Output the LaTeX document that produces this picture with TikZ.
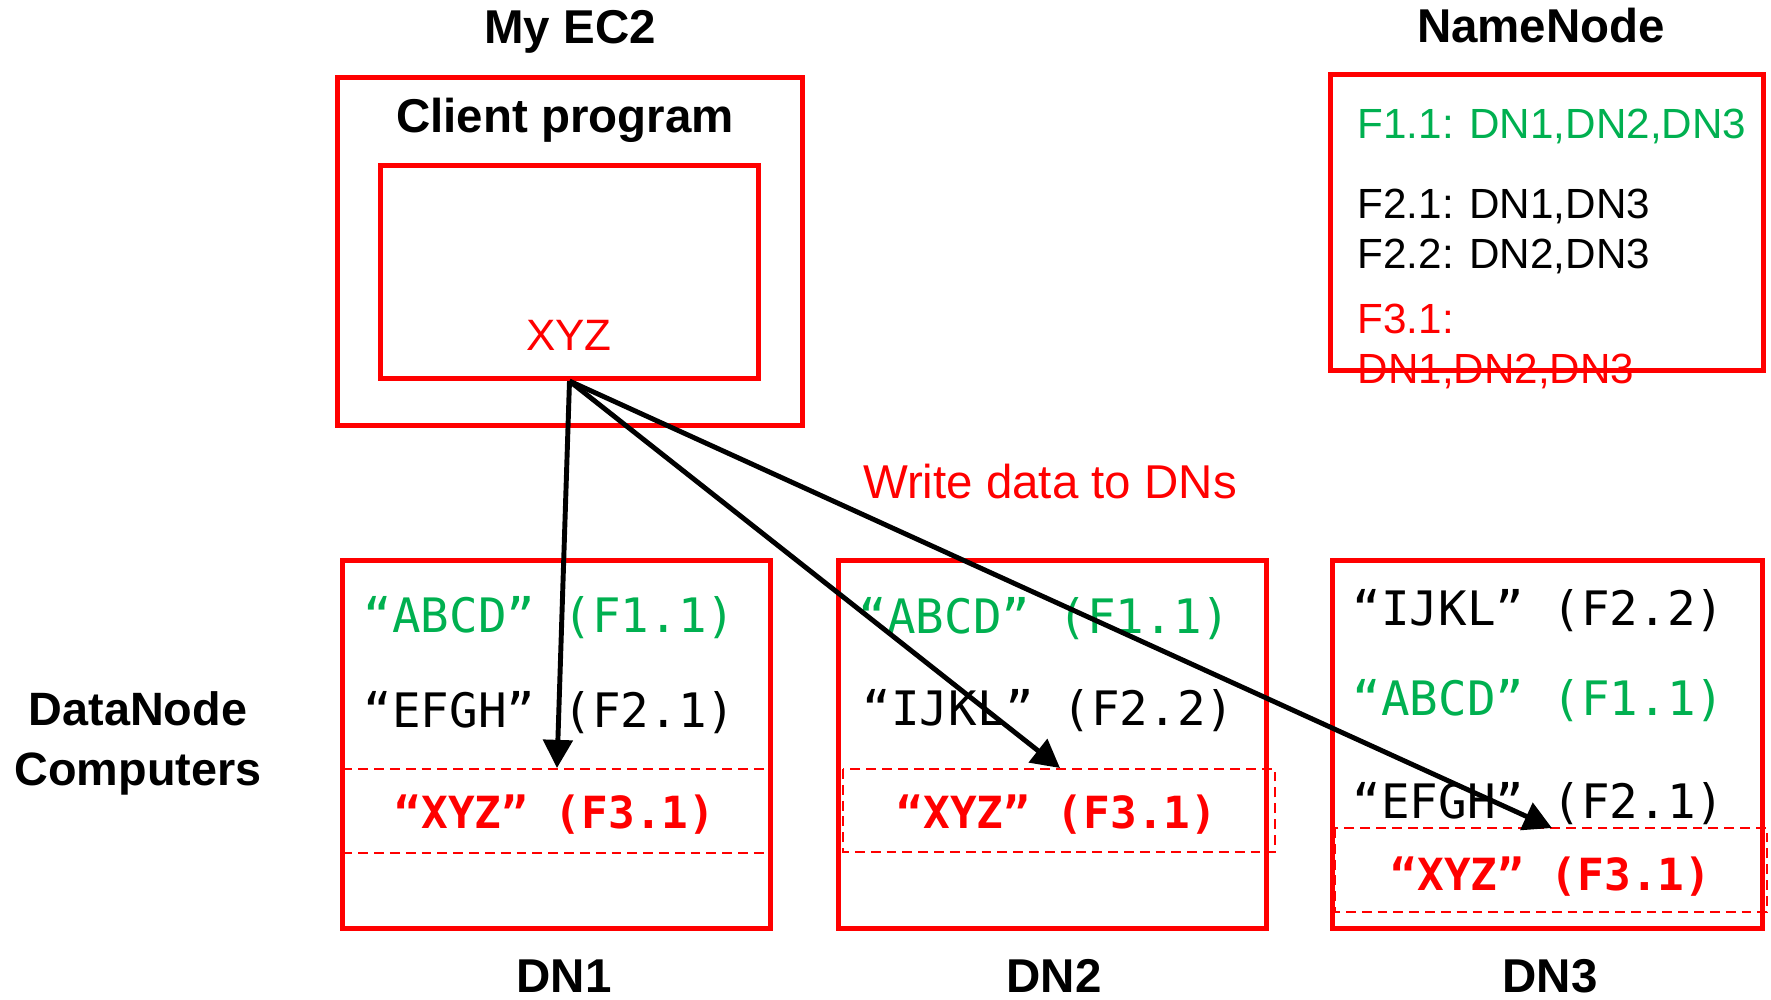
\documentclass[tikz,border=0pt]{standalone}
\usepackage{fontspec}
\setmainfont{Liberation Sans}
\newfontfamily\monofam{DejaVu Sans Mono}
\usetikzlibrary{arrows.meta}
\definecolor{okgreen}{RGB}{0,176,80}
\definecolor{hred}{RGB}{255,0,0}
\begin{document}
\begin{tikzpicture}[x=0.01cm,y=-0.01cm,
  box/.style={draw=hred, line width=1.42pt, inner sep=0pt, minimum width=#1},
  title/.style={font=\bfseries\fontsize{13.5}{16}\selectfont, anchor=base, inner sep=0pt},
  nntext/.style={font=\fontsize{12}{14}\selectfont, anchor=base west, inner sep=0pt},
  blocktext/.style={font=\monofam\fontsize{13.5}{16}\selectfont, anchor=base west, inner sep=0pt},
  newblock/.style={font=\monofam\bfseries\fontsize{12.6}{15}\selectfont, text=hred, anchor=base, inner sep=0pt},
  slot/.style={draw=hred, line width=0.6pt, dash pattern=on 2.8pt off 1.7pt},
  writearrow/.style={draw=black, line width=1.4pt, -{Triangle[length=8pt,width=8.3pt]}}
]
\useasboundingbox (0,0) rectangle (1771,999);

% ---------- client machine ----------
\node[box=4.65cm, minimum height=3.48cm] (ec2) at (570,251.5) {};
\node[box=3.78cm, minimum height=2.13cm] (client) at (569.5,272) {};
\node[title] (ec2lbl) at (570,43) {My EC2};
\node[title] (clientlbl) at (565,132) {Client program};
\node[font=\fontsize{12.5}{15}\selectfont, text=hred, anchor=base, inner sep=0pt] (xyz) at (569,350) {XYZ};

% ---------- name node ----------
\node[title] (nnlbl) at (1541,42) {NameNode};
\node[nntext, text=okgreen] (m11) at (1357,138) {F1.1: DN1,DN2,DN3};
\node[nntext] (m21) at (1357,218) {F2.1: DN1,DN3};
\node[nntext] (m22) at (1357,268) {F2.2: DN2,DN3};
\node[nntext, text=hred] (m31a) at (1357,333) {F3.1:};
\node[nntext, text=hred] (m31b) at (1357,383) {DN1,DN2,DN3};
\node[box=4.33cm, minimum height=2.96cm] (nn) at (1547,222.5) {};

% ---------- data nodes ----------
\node[box=4.28cm, minimum height=3.68cm] (dn1) at (556.5,744.5) {};
\node[box=4.28cm, minimum height=3.68cm] (dn2) at (1052.5,744.5) {};
\node[box=4.30cm, minimum height=3.68cm] (dn3) at (1547.5,744.5) {};

\node[title] (dn1lbl) at (564,992) {DN1};
\node[title] (dn2lbl) at (1054,992) {DN2};
\node[title] (dn3lbl) at (1550,992) {DN3};

\node[font=\bfseries\fontsize{13.3}{17}\selectfont, align=center, inner sep=0pt, anchor=base] (dngrp) at (138,785)
  {DataNode\\Computers};

% block slots for the new block
\draw[slot] (342.5,769) -- (770.5,769);
\draw[slot] (342.5,853) -- (770.5,853);
\draw[slot] (843,769) rectangle (1275,852);
\draw[slot] (1335,828) rectangle (1767,912);

% DN1 contents
\node[blocktext, text=okgreen] (d1a) at (363,632) {“ABCD” (F1.1)};
\node[blocktext] (d1b) at (363,727) {“EFGH” (F2.1)};
\node[newblock] (d1c) at (555,828) {“XYZ” (F3.1)};

% DN2 contents
\node[blocktext, text=okgreen] (d2a) at (858,633) {“ABCD” (F1.1)};
\node[blocktext] (d2b) at (862,725) {“IJKL” (F2.2)};
\node[newblock] (d2c) at (1057,828) {“XYZ” (F3.1)};

% DN3 contents
\node[blocktext] (d3a) at (1352,625) {“IJKL” (F2.2)};
\node[blocktext, text=okgreen] (d3b) at (1352,715) {“ABCD” (F1.1)};
\node[blocktext] (d3c) at (1352,818) {“EFGH” (F2.1)};
\node[newblock] (d3d) at (1551,890) {“XYZ” (F3.1)};

% ---------- writes ----------
\node[font=\fontsize{13.5}{16}\selectfont, text=hred, anchor=base, inner sep=0pt] (writelbl) at (1050,498) {Write data to DNs};

\coordinate (t1) at (557,768);
\coordinate (t2) at (1060,768);
\coordinate (t3) at (1552,828);
\draw[writearrow] (client.south) -- (t1);
\draw[writearrow] (client.south) -- (t2);
\draw[writearrow] (client.south) -- (t3);
\end{tikzpicture}
\end{document}
